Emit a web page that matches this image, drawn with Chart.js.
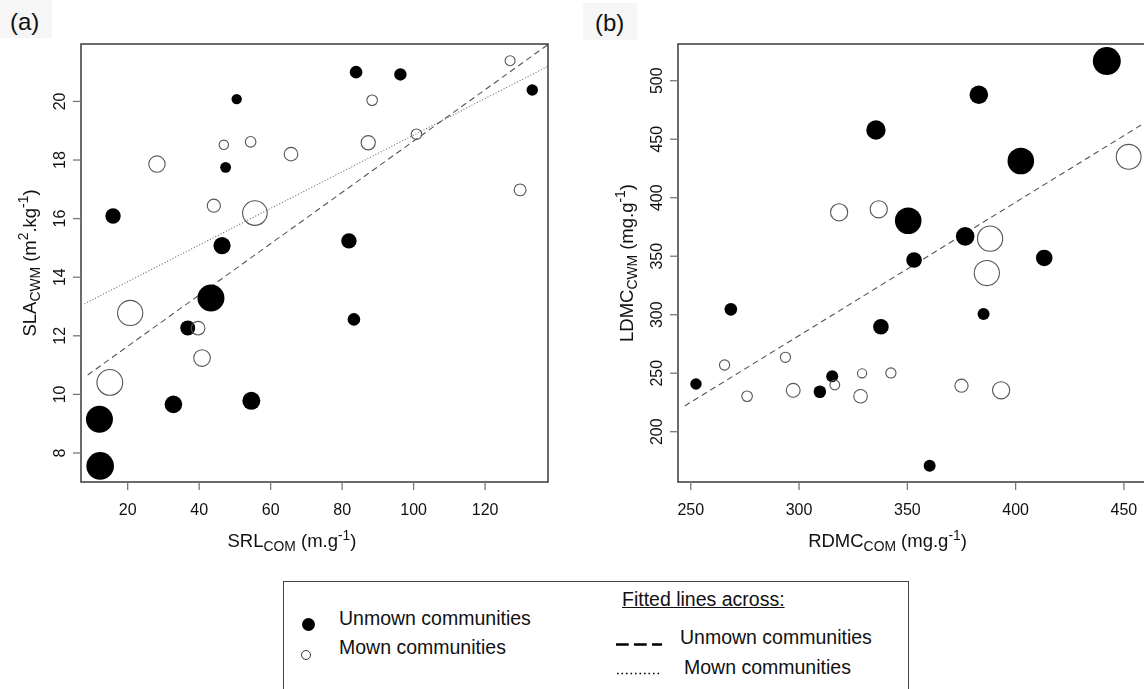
<!DOCTYPE html>
<html>
<head>
<meta charset="utf-8">
<script src="https://cdn.jsdelivr.net/npm/chart.js@4.4.1/dist/chart.umd.min.js"></script>
<style>
  html, body { margin: 0; padding: 0; background: #fff; }
  body { position: relative; width: 1144px; height: 689px; overflow: hidden;
         font-family: "Liberation Sans", Arial, sans-serif; color: #111; }
  canvas { position: absolute; top: 0; }
  #chartA { left: 0; }
  #chartB { left: 580px; }
  .tagbox { position: absolute; background: #f6f6f6; }
  .tag { position: absolute; font-size: 24px; line-height: 24px; }
  .legend { position: absolute; left: 283px; top: 581px; width: 626px; height: 140px;
            border: 1.5px solid #444; box-sizing: border-box; }
  .lt { position: absolute; white-space: nowrap; font-size: 19.5px; line-height: 20px; }
  .dot { position: absolute; border-radius: 50%; box-sizing: border-box; }
  svg { position: absolute; overflow: visible; }
</style>
</head>
<body>
<canvas id="chartA" width="580" height="560"></canvas>
<canvas id="chartB" width="600" height="560"></canvas>

<div class="tagbox" style="left:0;top:0;width:52px;height:38px"></div>
<div class="tag" style="left:10px;top:10px">(a)</div>
<div class="tagbox" style="left:583px;top:3px;width:54px;height:37px"></div>
<div class="tag" style="left:595px;top:11px">(b)</div>

<div class="legend"></div>
<div class="dot" style="left:302px;top:618px;width:13px;height:13px;background:#000"></div>
<div class="lt" style="left:339px;top:608px">Unmown communities</div>
<div class="dot" style="left:301px;top:650px;width:10px;height:10px;border:1px solid #333"></div>
<div class="lt" style="left:339px;top:637px">Mown communities</div>
<div class="lt" style="left:622px;top:589px;text-decoration:underline">Fitted lines across:</div>
<svg style="left:616px;top:642px" width="46" height="5">
  <line x1="0" y1="2.5" x2="46" y2="2.5" stroke="#000" stroke-width="2.7" stroke-dasharray="12.7 5.3"/>
</svg>
<div class="lt" style="left:680px;top:627px">Unmown communities</div>
<svg style="left:617px;top:672px" width="45" height="3">
  <line x1="0" y1="1.5" x2="45" y2="1.5" stroke="#000" stroke-width="1.6" stroke-dasharray="1.6 2.9"/>
</svg>
<div class="lt" style="left:684px;top:657px">Mown communities</div>

<script>
// ---- panel (a): SRL_COM vs SLA_CWM ----
const aUnmownSRL = [50.5, 47.4, 15.9, 46.4, 43.3, 36.8, 32.8, 54.6, 12.1, 12.3, 83.9, 96.3, 133.2, 81.9, 83.3];
const aUnmownSLA = [20.08, 17.75, 16.09, 15.08, 13.29, 12.27, 9.66, 9.78, 9.15, 7.56, 21.0, 20.92, 20.39, 15.24, 12.56];
const aUnmownSize = [5.2, 5.4, 7.7, 8.6, 13.5, 7.5, 8.8, 9, 13.5, 13.8, 6.3, 6.2, 5.7, 7.7, 6.3];

const aMownSRL = [28.2, 46.9, 54.4, 65.7, 44.1, 55.6, 20.7, 39.7, 40.8, 15.0, 87.3, 88.4, 100.8, 127.0, 129.8];
const aMownSLA = [17.86, 18.52, 18.62, 18.2, 16.44, 16.19, 12.78, 12.26, 11.24, 10.41, 18.59, 20.04, 18.88, 21.39, 16.98];
const aMownSize = [8.2, 4.7, 5.3, 6.8, 6.6, 12.3, 12.6, 6.8, 8.3, 12.9, 7.1, 5.3, 5.3, 5.0, 5.9];

// fitted lines, end points
const aDashSRL = [8.8, 137.7];
const aDashSLA = [10.66, 21.95];
const aDotSRL = [7.9, 137.6];
const aDotSLA = [13.09, 21.2];

const aTicksX = [20, 40, 60, 80, 100, 120];
const aTicksY = [8, 10, 12, 14, 16, 18, 20];

// ---- panel (b): RDMC_COM vs LDMC_CWM ----
const bUnmownRDMC = [442.1, 383.0, 335.5, 402.4, 350.4, 376.7, 353.1, 413.2, 337.8, 385.2, 360.3, 268.5, 252.4, 315.3, 309.6];
const bUnmownLDMC = [516.8, 488.0, 457.9, 431.4, 380.3, 367.0, 346.8, 348.5, 289.7, 300.6, 170.9, 304.6, 240.8, 247.4, 234.2];
const bUnmownSize = [14, 9.3, 9.7, 13.3, 13.3, 9.3, 7.8, 8.3, 7.8, 6, 6, 6.3, 5.7, 6, 6.3];

const bMownRDMC = [452.2, 318.5, 336.8, 388.2, 386.7, 265.6, 293.7, 276.0, 297.3, 316.5, 328.4, 329.1, 342.4, 375.0, 393.3];
const bMownLDMC = [435.0, 387.5, 390.1, 365.0, 335.6, 257.0, 263.6, 230.3, 235.4, 239.9, 230.3, 249.9, 250.2, 239.3, 235.4];
const bMownSize = [12.4, 8.6, 8.6, 12.6, 12.6, 5.1, 5.1, 5.3, 6.9, 4.9, 6.8, 4.6, 5.1, 6.6, 8.6];

const bDashRDMC = [247.2, 457.9];
const bDashLDMC = [222.0, 462.1];

const bTicksX = [250, 300, 350, 400, 450];
const bTicksY = [200, 250, 300, 350, 400, 450, 500];

// axis titles: [text, kind] with kind n / sub / sup
const aTitleX = [["SRL", "n"], ["COM", "sub"], [" (m.g", "n"], ["-1", "sup"], [")", "n"]];
const aTitleY = [["SLA", "n"], ["CWM", "sub"], [" (m", "n"], ["2", "sup"], [".kg", "n"], ["-1", "sup"], [")", "n"]];
const bTitleX = [["RDMC", "n"], ["COM", "sub"], [" (mg.g", "n"], ["-1", "sup"], [")", "n"]];
const bTitleY = [["LDMC", "n"], ["CWM", "sub"], [" (mg.g", "n"], ["-1", "sup"], [")", "n"]];

const FONT = '"Liberation Sans", Arial, sans-serif';

const bubbles = (xs, ys, rs) => xs.map((x, i) => ({ x, y: ys[i], r: rs[i] }));
const segment = (xs, ys) => xs.map((x, i) => ({ x, y: ys[i] }));

function drawRich(ctx, parts, x, y, rot, size) {
  const fontFor = (k) => `${k === "n" ? size : size * 0.75}px ${FONT}`;
  ctx.save();
  ctx.translate(x, y);
  ctx.rotate(rot);
  ctx.textAlign = "left";
  ctx.textBaseline = "alphabetic";
  let total = 0;
  parts.forEach(([t, k]) => { ctx.font = fontFor(k); total += ctx.measureText(t).width; });
  let cur = -total / 2;
  parts.forEach(([t, k]) => {
    ctx.font = fontFor(k);
    const dy = k === "sub" ? size * 0.23 : k === "sup" ? -size * 0.4 : 0;
    ctx.fillText(t, cur, dy);
    cur += ctx.measureText(t).width;
  });
  ctx.restore();
}

// R-style box, outward ticks, rotated y labels
const rAxes = {
  id: "rAxes",
  afterDraw(chart, args, o) {
    const { ctx, chartArea: a } = chart;
    const sx = chart.scales.x, sy = chart.scales.y;
    ctx.save();
    ctx.strokeStyle = "#3a3a3a";
    ctx.lineWidth = 1.5;
    ctx.strokeRect(a.left, a.top, a.right - a.left, a.bottom - a.top);

    ctx.strokeStyle = "#777";
    ctx.lineWidth = 1.3;
    ctx.fillStyle = "#111";
    ctx.font = `16px ${FONT}`;
    ctx.textAlign = "center";
    ctx.textBaseline = "alphabetic";
    o.xTicks.forEach((v) => {
      const px = sx.getPixelForValue(v);
      ctx.beginPath(); ctx.moveTo(px, a.bottom); ctx.lineTo(px, a.bottom + 8); ctx.stroke();
      ctx.fillText(String(v), px, a.bottom + 33);
    });
    o.yTicks.forEach((v) => {
      const py = sy.getPixelForValue(v);
      ctx.beginPath(); ctx.moveTo(a.left - 8, py); ctx.lineTo(a.left, py); ctx.stroke();
      ctx.save();
      ctx.translate(a.left - 16, py);
      ctx.rotate(-Math.PI / 2);
      ctx.fillText(String(v), 0, 0);
      ctx.restore();
    });
    drawRich(ctx, o.xTitle, o.xTitleAt, a.bottom + 65, 0, 18.5);
    drawRich(ctx, o.yTitle, a.left - 45.5, (a.top + a.bottom) / 2, -Math.PI / 2, 18.5);
    ctx.restore();
  },
};

function makePanel(id, cfg) {
  const lines = cfg.lines.map((l) => ({
    type: "line",
    data: segment(l.xs, l.ys),
    borderColor: l.color,
    borderWidth: 1.1,
    borderDash: l.dash,
    pointRadius: 0,
    fill: false,
    order: 2,
  }));
  new Chart(document.getElementById(id), {
    type: "bubble",
    data: {
      datasets: [
        { label: "Mown communities", data: cfg.mown, backgroundColor: "rgba(0,0,0,0)",
          borderColor: "#555", borderWidth: 1.1, order: 0 },
        { label: "Unmown communities", data: cfg.unmown, backgroundColor: "#000",
          borderColor: "#000", borderWidth: 0, order: 1 },
        ...lines,
      ],
    },
    options: {
      responsive: false,
      animation: false,
      events: [],
      layout: { padding: cfg.padding },
      scales: {
        x: { type: "linear", display: false, min: cfg.xMin, max: cfg.xMax },
        y: { type: "linear", display: false, min: cfg.yMin, max: cfg.yMax },
      },
      plugins: {
        legend: { display: false },
        tooltip: { enabled: false },
        rAxes: cfg.axes,
      },
    },
    plugins: [rAxes],
  });
}

makePanel("chartA", {
  unmown: bubbles(aUnmownSRL, aUnmownSLA, aUnmownSize),
  mown: bubbles(aMownSRL, aMownSLA, aMownSize),
  lines: [
    { xs: aDashSRL, ys: aDashSLA, dash: [6, 4], color: "#555" },
    { xs: aDotSRL, ys: aDotSLA, dash: [1, 2], color: "#666" },
  ],
  padding: { left: 81, top: 44, right: 32, bottom: 78 },
  xMin: 6.94, xMax: 137.6, yMin: 7.01, yMax: 21.96,
  axes: { xTicks: aTicksX, yTicks: aTicksY, xTitle: aTitleX, yTitle: aTitleY, xTitleAt: 292 },
});

makePanel("chartB", {
  unmown: bubbles(bUnmownRDMC, bUnmownLDMC, bUnmownSize),
  mown: bubbles(bMownRDMC, bMownLDMC, bMownSize),
  lines: [
    { xs: bDashRDMC, ys: bDashLDMC, dash: [6, 4], color: "#555" },
  ],
  padding: { left: 98, top: 44, right: 34, bottom: 78 },
  xMin: 244.1, xMax: 460.2, yMin: 157, yMax: 531.4,
  axes: { xTicks: bTicksX, yTicks: bTicksY, xTitle: bTitleX, yTitle: bTitleY, xTitleAt: 307.5 },
});
</script>
</body>
</html>
